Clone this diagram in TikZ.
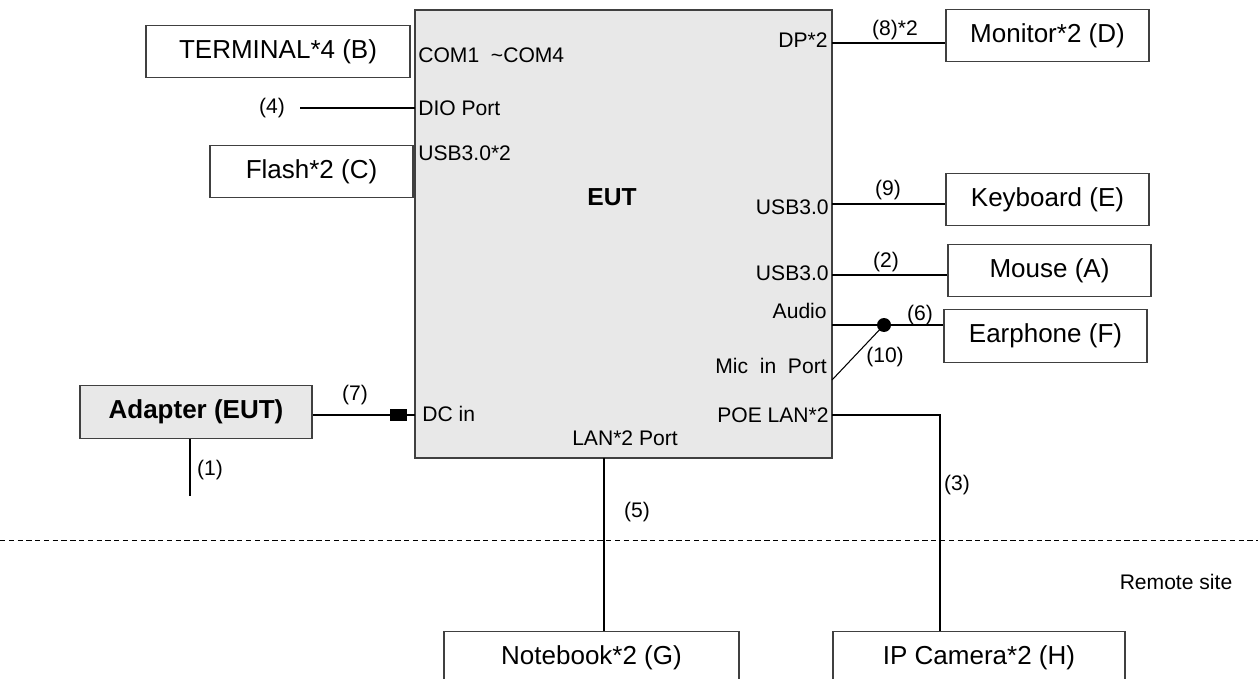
\documentclass[tikz,border=0pt]{standalone}
\usepackage{fontspec}
\setmainfont{Liberation Sans}
\usepackage{tikz}
\usetikzlibrary{positioning, calc}
\usepackage{xcolor}
\definecolor{eutgray}{RGB}{232, 232, 232}
\definecolor{framegray}{RGB}{64, 64, 64}

\begin{document}
\begin{tikzpicture}[x=0.02cm, y=-0.02cm,
    font=\fontsize{12}{14}\selectfont,
    devbox/.style={rectangle, draw=framegray, line width=0.8pt, minimum height=1.05cm,
      inner sep=0pt, font=\fontsize{14.8}{17}\selectfont},
    port/.style={inner sep=0pt},
    wire/.style={line width=0.6pt}]
  \useasboundingbox (0,0) rectangle (1258,679);

  % EUT and its ports
  \node[devbox, fill=eutgray, minimum width=8.34cm, minimum height=8.96cm] (eut) at (623.5,234) {};
  \node[port, font=\fontsize{14}{16}\selectfont\bfseries] (eutlbl) at (612,197) {EUT};
  \node[port, anchor=west] (com) at (418,55) {COM1\ \ \textasciitilde COM4};
  \node[port, anchor=west] (dio) at (418,108) {DIO Port};
  \node[port, anchor=west] (usbl) at (418,153) {USB3.0*2};
  \node[port, anchor=west] (dcin) at (422,414) {DC in};
  \node[port, anchor=east] (dp) at (828,40) {DP*2};
  \node[port, anchor=east] (usbk) at (829,207) {USB3.0};
  \node[port, anchor=east] (usbm) at (829,273) {USB3.0};
  \node[port, anchor=east] (audio) at (827,311) {Audio};
  \node[port, anchor=east] (mic) at (827,366) {Mic\ \ in\ \ Port};
  \node[port, anchor=east] (poe) at (829,415) {POE LAN*2};
  \node[port] (lan) at (625,438) {LAN*2 Port};

  % Peripherals
  \node[devbox, minimum width=5.28cm] (term) at (278,51.5) {TERMINAL*4 (B)};
  \node[devbox, minimum width=4.06cm] (flash) at (311.5,171.5) {Flash*2 (C)};
  \node[devbox, minimum width=4.06cm] (mon) at (1047.5,35.5) {Monitor*2 (D)};
  \node[devbox, minimum width=4.06cm] (kbd) at (1047.5,199.5) {Keyboard (E)};
  \node[devbox, minimum width=4.06cm] (mouse) at (1049.5,270.5) {Mouse (A)};
  \node[devbox, minimum width=4.06cm] (ear) at (1045.5,336) {Earphone (F)};
  \node[devbox, fill=eutgray, minimum width=4.64cm, font=\fontsize{14.8}{17}\selectfont\bfseries] (adp) at (196,412) {Adapter (EUT)};
  \node[devbox, minimum width=5.9cm] (nb) at (591.5,657.5) {Notebook*2 (G)};
  \node[devbox, minimum width=5.84cm] (cam) at (979,657.5) {IP Camera*2 (H)};

  % Connection points
  \coordinate (pdio) at (415,108);
  \coordinate (dioend) at (300,108);
  \coordinate (pdp) at (832,43);
  \coordinate (pusbk) at (832,204);
  \coordinate (pusbm) at (832,275);
  \coordinate (paudio) at (832,325);
  \coordinate (pmic) at (832,380);
  \coordinate (ppoe) at (832,415);
  \coordinate (pdc) at (415,415);
  \coordinate (plan) at (604,458);
  \coordinate (pwrend) at (190,496);
  \coordinate (camtop) at (940,631);
  \coordinate (sitel) at (0,540);
  \coordinate (siter) at (1258,540);
  \node[circle, fill=black, inner sep=0pt, minimum size=0.28cm] (jack) at (884,325) {};
  \node[rectangle, fill=black, inner sep=0pt, minimum width=0.34cm, minimum height=0.24cm] (plug) at (398.5,415) {};

  % Cables
  \draw[wire] (dioend) -- (pdio);
  \draw[wire] (pdp) -- (pdp -| mon.west);
  \draw[wire] (pusbk) -- (pusbk -| kbd.west);
  \draw[wire] (pusbm) -- (pusbm -| mouse.west);
  \draw[wire] (paudio) -- (jack) -- (jack -| ear.west);
  \draw[wire] (pmic) -- (jack.center);
  \draw[wire] (adp.east |- plug) -- (plug) -- (pdc);
  \draw[wire] (adp.south -| pwrend) -- (pwrend);
  \draw[wire] (plan) -- (plan |- nb.north);
  \draw[wire] (ppoe) -| (camtop);
  \draw[line width=0.5pt, dash pattern=on 3pt off 2pt] (sitel) -- (siter);

  % Cable labels
  \node (l4) at (272,108) {(4)};
  \node (l8) at (895,30) {(8)*2};
  \node (l9) at (888,190) {(9)};
  \node (l2) at (886,262) {(2)};
  \node (l6) at (920,315) {(6)};
  \node (l10) at (885,357) {(10)};
  \node (l7) at (355,395) {(7)};
  \node (l1) at (210,470) {(1)};
  \node (l5) at (637,512) {(5)};
  \node (l3) at (957,485) {(3)};
  \node (remote) at (1176,582) {Remote site};
\end{tikzpicture}
\end{document}
